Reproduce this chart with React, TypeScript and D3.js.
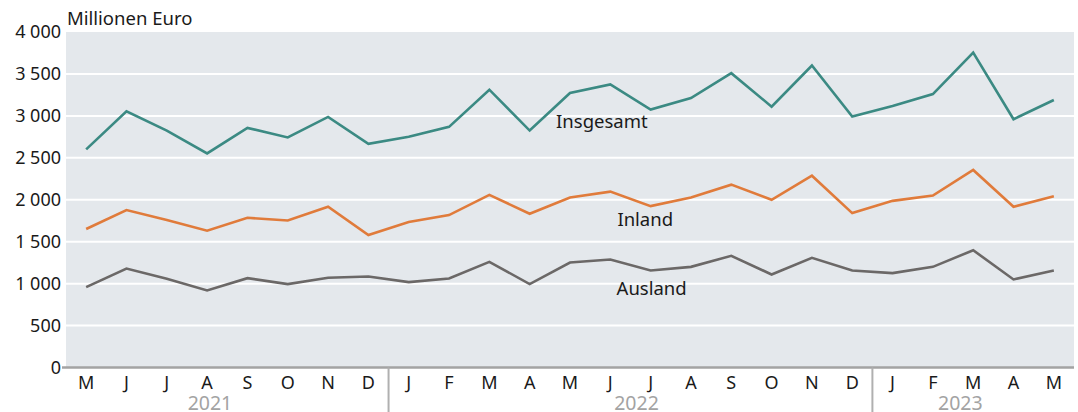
import React, { useEffect, useRef } from "react";
import * as d3 from "d3";

// Monate Mai 2021 bis Mai 2023
const months = ["M", "J", "J", "A", "S", "O", "N", "D",
  "J", "F", "M", "A", "M", "J", "J", "A", "S", "O", "N", "D",
  "J", "F", "M", "A", "M"];
const years = ["2021", "2022", "2023"];
const yTicks = [0, 500, 1000, 1500, 2000, 2500, 3000, 3500, 4000];

// Millionen Euro
const insgesamt = [2600, 3055, 2825, 2553, 2857, 2743, 2987, 2667,
  2750, 2869, 3312, 2825, 3272, 3375, 3075, 3213, 3509, 3110, 3600, 2991,
  3118, 3260, 3754, 2960, 3189];
const inland = [1651, 1877, 1758, 1631, 1785, 1753, 1916, 1580,
  1734, 1817, 2058, 1833, 2026, 2097, 1924, 2026, 2180, 1999, 2287, 1841,
  1987, 2050, 2355, 1916, 2043];
const ausland = [959, 1180, 1058, 919, 1065, 994, 1070, 1085,
  1018, 1062, 1260, 994, 1251, 1287, 1157, 1200, 1331, 1109, 1307, 1157,
  1125, 1200, 1398, 1050, 1157];

const seriesNames = ["Insgesamt", "Inland", "Ausland"];
const colors = ["#3b8a83", "#e07b3b", "#6b6867"];

const width = 1078;
const height = 412;
const plot = { left: 66, right: 1074, top: 32, bottom: 367.5 };
const font = "'Noto Sans', 'Open Sans', sans-serif";

export default function App() {
  const ref = useRef<SVGSVGElement>(null);

  useEffect(() => {
    const svg = d3.select(ref.current);
    svg.selectAll("*").remove();

    const idx = months.map((_, i) => i);
    const x = d3.scaleBand<number>().domain(idx).range([plot.left, plot.right]);
    const cx = (i: number) => plot.left + (i + 0.5) * x.step();
    const y = d3.scaleLinear().domain([0, 4000]).range([plot.bottom, plot.top]);

    svg.append("rect")
      .attr("x", plot.left)
      .attr("y", plot.top)
      .attr("width", plot.right - plot.left)
      .attr("height", plot.bottom - plot.top)
      .attr("fill", "#e4e8ec");

    // gridlines
    svg.selectAll(".grid")
      .data(yTicks.filter(d => d > 0 && d < 4000))
      .enter()
      .append("line")
      .attr("x1", plot.left)
      .attr("x2", plot.right)
      .attr("y1", d => y(d))
      .attr("y2", d => y(d))
      .attr("stroke", "#fff")
      .attr("stroke-width", 2);

    svg.selectAll(".ytick")
      .data(yTicks)
      .enter()
      .append("text")
      .attr("x", 61)
      .attr("y", d => y(d))
      .attr("dy", "0.36em")
      .attr("text-anchor", "end")
      .attr("font-family", font)
      .attr("font-size", 18)
      .attr("fill", "#1a1a1a")
      .text(d => d3.format(",")(d).replace(",", " "));

    svg.append("text")
      .attr("x", 67)
      .attr("y", 25)
      .attr("font-family", font)
      .attr("font-size", 18.5)
      .attr("fill", "#1a1a1a")
      .text("Millionen Euro");

    // axis line
    svg.append("line")
      .attr("x1", 62)
      .attr("x2", plot.right)
      .attr("y1", plot.bottom)
      .attr("y2", plot.bottom)
      .attr("stroke", "#a3a3a3")
      .attr("stroke-width", 2.5);

    // month labels
    svg.selectAll(".month")
      .data(months)
      .enter()
      .append("text")
      .attr("x", (d, i) => cx(i))
      .attr("y", 389)
      .attr("text-anchor", "middle")
      .attr("font-family", font)
      .attr("font-size", 18)
      .attr("fill", "#1a1a1a")
      .text(d => d);

    // year separators after December
    const seps = [8, 20];
    svg.selectAll(".sep")
      .data(seps)
      .enter()
      .append("line")
      .attr("x1", d => x(d)!)
      .attr("x2", d => x(d)!)
      .attr("y1", plot.bottom)
      .attr("y2", height)
      .attr("stroke", "#b0b0b0")
      .attr("stroke-width", 2);

    const yearPos = [3.07, 13.65, 21.68];
    svg.selectAll(".year")
      .data(years)
      .enter()
      .append("text")
      .attr("x", (d, i) => cx(yearPos[i]))
      .attr("y", 409.5)
      .attr("text-anchor", "middle")
      .attr("font-family", font)
      .attr("font-size", 19.5)
      .attr("fill", "#a3a3a3")
      .text(d => d);

    const line = d3.line<number>()
      .x((d, i) => cx(i))
      .y(d => y(d));

    [insgesamt, inland, ausland].forEach((s, k) => {
      svg.append("path")
        .datum(s)
        .attr("d", line)
        .attr("fill", "none")
        .attr("stroke", colors[k])
        .attr("stroke-width", 2.6)
        .attr("stroke-linejoin", "miter");
    });

    // direct labels
    const labelAt = [
      { i: 11.68, v: 2858 },
      { i: 13.2, v: 1690 },
      { i: 13.18, v: 864 },
    ];
    svg.selectAll(".lbl")
      .data(seriesNames)
      .enter()
      .append("text")
      .attr("x", (d, k) => cx(labelAt[k].i) - 1)
      .attr("y", (d, k) => y(labelAt[k].v))
      .attr("font-family", font)
      .attr("font-size", 18.5)
      .attr("fill", "#1a1a1a")
      .text(d => d);
  }, []);

  return (
    <svg
      ref={ref}
      width={width}
      height={height}
      style={{ position: "absolute", left: 0, top: 0 }}
    />
  );
}
